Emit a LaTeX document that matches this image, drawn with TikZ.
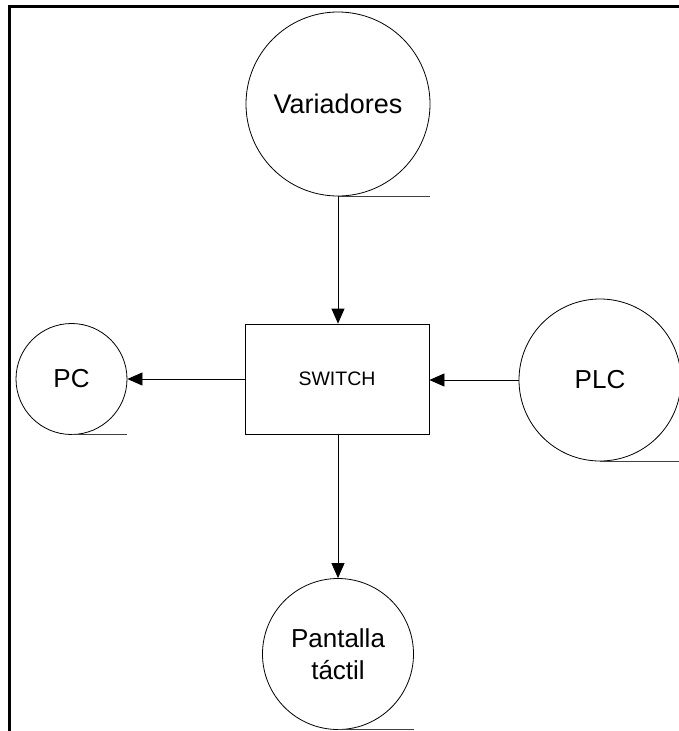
\documentclass[tikz,border=0pt]{standalone}
\usepackage{fontspec}
\setmainfont{Liberation Sans}
\usetikzlibrary{arrows.meta}
\begin{document}
\begin{tikzpicture}[x=1pt,y=-1pt,
  proc/.style={draw,circle,line width=0.8pt,inner sep=0pt,align=center,font=\fontsize{26}{32}\selectfont},
  box/.style={draw,rectangle,line width=0.8pt,inner sep=0pt,font=\fontsize{19.5}{22}\selectfont},
  flow/.style={line width=0.8pt,-{Triangle[length=15pt,width=13pt]}},
  tail/.style={line width=1pt,draw=black!75},
  frame/.style={line width=2.6pt}]
\useasboundingbox (0,0) rectangle (679,731);
\coordinate (tl) at (9.3,6.5);
\coordinate (tr) at (679,6.5);
\coordinate (bl) at (9.3,731);
\draw[frame] (tr) -- (tl) -- (bl);
\node[proc,minimum size=184pt,font=\fontsize{27}{32}\selectfont] (var) at (338,104) {Variadores};
\node[box,minimum width=184pt,minimum height=110pt] (sw) at (337,379) {SWITCH};
\node[proc,minimum size=111pt] (pc) at (71.5,379) {PC};
\node[proc,minimum size=162pt] (plc) at (600,380) {PLC};
\node[proc,minimum size=151pt] (pt) at (338,654) {Pantalla\\táctil};
\draw[tail] (var.south) -- (var.south -| var.east);
\draw[tail] (pc.south) -- (pc.south -| pc.east);
\draw[tail] (plc.south) -- (plc.south -| 679,0);
\draw[tail] (pt.south) -- (pt.south -| pt.east);
\draw[flow] (var.south) -- (var.south |- sw.north);
\draw[flow] (sw.south -| pt.north) -- (pt.north);
\draw[flow] (sw.west) -- (sw.west -| pc.east);
\draw[flow] (plc.west) -- (plc.west -| sw.east);
\end{tikzpicture}
\end{document}
